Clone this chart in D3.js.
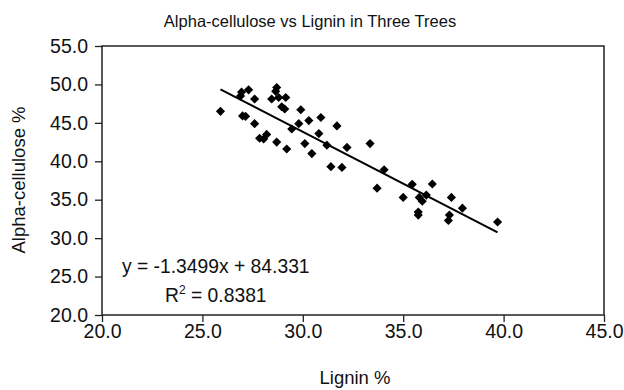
<!DOCTYPE html>
<html lang="en">
<head>
    <meta charset="UTF-8">
    <title>Alpha-cellulose vs Lignin</title>
    <script src="https://d3js.org/d3.v7.min.js"></script>
    <style>
        body {
            margin: 0;
            background: #fff;
            font-family: Arial, "Liberation Sans", sans-serif;
        }
        .tick text {
            font-size: 19.5px;
            fill: #111;
        }
    </style>
</head>
<body>
    <div id="chart"></div>

    <script>
        // datos
        var lignin = [25.9, 26.95, 26.9, 27.3, 27.0, 27.15, 27.6, 27.6, 27.85, 28.05,
            28.2, 28.45, 28.7, 28.65, 28.8, 28.7, 29.15, 28.95, 29.1, 29.2,
            29.45, 29.8, 29.9, 30.1, 30.3, 30.45, 30.8, 30.9, 31.2, 31.4,
            31.7, 31.95, 32.2, 33.35, 33.7, 34.05, 35.0, 35.45, 35.8, 35.95,
            36.15, 35.75, 35.75, 36.45, 37.4, 37.3, 37.25, 37.95, 39.7];
        var cellulose = [46.5, 49.0, 48.5, 49.3, 45.9, 45.85, 48.1, 44.9, 43.0, 42.9,
            43.5, 48.1, 49.6, 49.1, 48.3, 42.5, 48.3, 47.1, 46.8, 41.6,
            44.2, 44.9, 46.7, 42.3, 45.3, 41.0, 43.6, 45.7, 42.1, 39.3,
            44.6, 39.2, 41.8, 42.3, 36.5, 38.9, 35.3, 37.0, 35.3, 34.8,
            35.6, 33.4, 33.0, 37.05, 35.3, 33.0, 32.3, 33.9, 32.1];
        var xTicks = [20, 25, 30, 35, 40, 45];
        var yTicks = [20, 25, 30, 35, 40, 45, 50, 55];
        var slope = -1.3499;
        var intercept = 84.331;
        var r2 = "0.8381";

        var width = 624;
        var height = 390;
        var margin = { top: 46, right: 20, bottom: 75, left: 102 };

        var svg = d3.select("#chart")
            .append("svg")
            .attr("width", width)
            .attr("height", height);

        var x = d3.scaleLinear()
            .domain([20, 45])
            .range([margin.left, width - margin.right]);

        var y = d3.scaleLinear()
            .domain([20, 55])
            .range([height - margin.bottom, margin.top]);

        var fmt = d3.format(".1f");

        // ejes
        var xAxis = svg.append("g")
            .attr("transform", `translate(0,${height - margin.bottom})`)
            .call(d3.axisBottom(x).tickValues(xTicks).tickFormat(fmt).tickSize(7).tickPadding(2));

        var yAxis = svg.append("g")
            .attr("transform", `translate(${margin.left},0)`)
            .call(d3.axisLeft(y).tickValues(yTicks).tickFormat(fmt).tickSize(7).tickPadding(7));

        [xAxis, yAxis].forEach(function(g) {
            g.select(".domain").remove();
            g.selectAll(".tick line").attr("stroke", "#222").attr("stroke-width", 1.3);
            g.selectAll(".tick text").attr("font-family", "Arial, 'Liberation Sans', sans-serif");
        });

        // marco del area de trazado
        svg.append("rect")
            .attr("x", x(20))
            .attr("y", y(55))
            .attr("width", x(45) - x(20))
            .attr("height", y(20) - y(55))
            .attr("fill", "none")
            .attr("stroke", "#222")
            .attr("stroke-width", 1.5);

        // puntos en forma de rombo
        var diamond = d3.symbol().type(d3.symbolSquare).size(42);
        svg.selectAll(".pt")
            .data(lignin)
            .enter().append("path")
            .attr("class", "pt")
            .attr("d", diamond)
            .attr("fill", "#000")
            .attr("transform", function(d, i) {
                return "translate(" + x(d) + "," + y(cellulose[i]) + ") rotate(45)";
            });

        // linea de tendencia
        var xmin = d3.min(lignin), xmax = d3.max(lignin);
        svg.append("line")
            .attr("x1", x(xmin))
            .attr("y1", y(slope * xmin + intercept))
            .attr("x2", x(xmax))
            .attr("y2", y(slope * xmax + intercept))
            .attr("stroke", "#000")
            .attr("stroke-width", 2);

        // ecuacion y R2
        svg.append("text")
            .attr("x", 122)
            .attr("y", 273)
            .attr("font-size", 19.3)
            .attr("fill", "#111")
            .text("y = " + slope + "x + " + intercept);

        var r2Text = svg.append("text")
            .attr("x", 165)
            .attr("y", 302)
            .attr("font-size", 19.3)
            .attr("fill", "#111");
        r2Text.append("tspan").text("R");
        r2Text.append("tspan").attr("font-size", 12).attr("dy", -8).text("2");
        r2Text.append("tspan").attr("dy", 8).text(" = " + r2);

        // titulos
        svg.append("text")
            .attr("x", 310)
            .attr("y", 27)
            .attr("text-anchor", "middle")
            .attr("font-size", 16.5)
            .attr("fill", "#111")
            .text("Alpha-cellulose vs Lignin in Three Trees");

        svg.append("text")
            .attr("x", 355)
            .attr("y", 384)
            .attr("text-anchor", "middle")
            .attr("font-size", 18.5)
            .attr("fill", "#111")
            .text("Lignin %");

        svg.append("text")
            .attr("transform", "translate(25,180) rotate(-90)")
            .attr("text-anchor", "middle")
            .attr("font-size", 18.5)
            .attr("fill", "#111")
            .text("Alpha-cellulose %");
    </script>
</body>
</html>
